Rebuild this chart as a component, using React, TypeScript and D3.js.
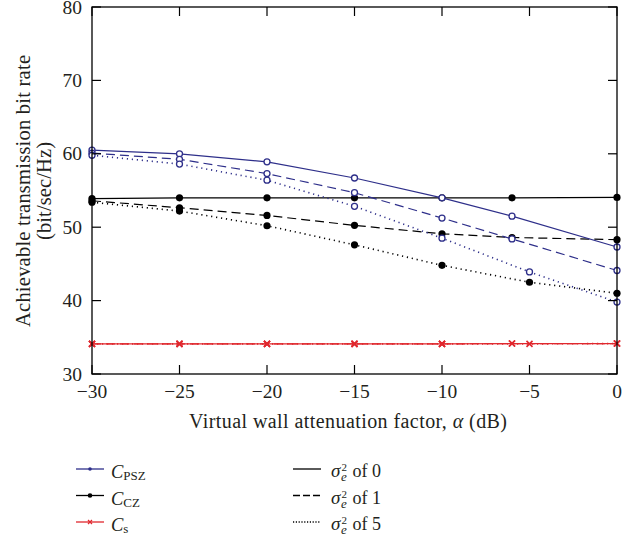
import React from "react";
import * as d3 from "d3";

const xSolidDashed = [-30, -25, -20, -15, -10, -6, 0];
const xDotted = [-30, -25, -20, -15, -10, -5, 0];

const cPsz0 = [60.5, 60.0, 58.9, 56.7, 54.0, 51.5, 47.3];
const cPsz1 = [60.1, 59.25, 57.3, 54.7, 51.25, 48.4, 44.1];
const cPsz5 = [59.8, 58.6, 56.4, 52.85, 48.5, 43.9, 39.8];

const cCz0 = [53.9, 54.0, 54.0, 54.0, 54.0, 54.0, 54.05];
const cCz1 = [53.6, 52.65, 51.6, 50.25, 49.1, 48.6, 48.3];
const cCz5 = [53.4, 52.2, 50.2, 47.6, 44.8, 42.5, 41.0];

const cS0 = [34.1, 34.1, 34.1, 34.1, 34.1, 34.15, 34.15];
const cS1 = [34.1, 34.1, 34.1, 34.1, 34.1, 34.15, 34.15];
const cS5 = [34.1, 34.1, 34.1, 34.1, 34.1, 34.1, 34.15];

const xTicks = [-30, -25, -20, -15, -10, -5, 0];
const yTicks = [30, 40, 50, 60, 70, 80];
const xTickLabels = ["\u221230", "\u221225", "\u221220", "\u221215", "\u221210", "\u22125", "0"];

const BLUE = "#2e2f8a";
const RED = "#e0282e";
const BLACK = "#000";
const TXT = "#231f20";
const FONT = "'Liberation Serif', 'DejaVu Serif', serif";

const L = 92, R = 617, T = 7, B = 374;

const DASH = "9,5";
const DOT = "1.2,3.8";

export default function App() {
  const x = d3.scaleLinear().domain([-30, 0]).range([L, R]);
  const y = d3.scaleLinear().domain([30, 80]).range([B, T]);
  const line = d3.line<[number, number]>().x(d => x(d[0])).y(d => y(d[1]));

  const series = [
    { xs: xSolidDashed, ys: cCz0, color: BLACK, dash: undefined, marker: "filled" },
    { xs: xSolidDashed, ys: cCz1, color: BLACK, dash: DASH, marker: "filled" },
    { xs: xDotted, ys: cCz5, color: BLACK, dash: DOT, marker: "filled" },
    { xs: xSolidDashed, ys: cPsz0, color: BLUE, dash: undefined, marker: "open" },
    { xs: xSolidDashed, ys: cPsz1, color: BLUE, dash: DASH, marker: "open" },
    { xs: xDotted, ys: cPsz5, color: BLUE, dash: DOT, marker: "open" },
    { xs: xSolidDashed, ys: cS0, color: RED, dash: undefined, marker: "x" },
    { xs: xSolidDashed, ys: cS1, color: RED, dash: DASH, marker: "x" },
    { xs: xDotted, ys: cS5, color: RED, dash: DOT, marker: "x" },
  ];

  const marker = (kind: string, cx: number, cy: number, color: string, key: string) => {
    if (kind === "filled") return <circle key={key} cx={cx} cy={cy} r={3.6} fill={color} />;
    if (kind === "open") return <circle key={key} cx={cx} cy={cy} r={3} fill="white" stroke={color} strokeWidth={1.3} />;
    const s = 3;
    return (
      <path key={key} d={`M${cx - s},${cy - s}L${cx + s},${cy + s}M${cx - s},${cy + s}L${cx + s},${cy - s}`} stroke={color} strokeWidth={1.6} />
    );
  };

  const tickLen = 9;

  const legLeft = [
    { main: "C", sub: "PSZ", color: BLUE, marker: "open" },
    { main: "C", sub: "CZ", color: BLACK, marker: "filled" },
    { main: "C", sub: "s", color: RED, marker: "x" },
  ];
  const legRight = [
    { val: "0", dash: undefined },
    { val: "1", dash: "7,3" },
    { val: "5", dash: "1.2,1.6" },
  ];
  const legY = [469, 495.5, 522];

  return (
    <svg width={639} height={539} style={{ position: "absolute", left: 0, top: 0, background: "white" }} fontFamily={FONT}>
      <rect x={0} y={0} width={639} height={539} fill="white" />
      {series.map((s, i) => (
        <g key={i}>
          <path
            d={line(s.xs.map((v, j) => [v, s.ys[j]] as [number, number])) || ""}
            fill="none"
            stroke={s.color}
            strokeWidth={s.dash === DOT ? 1.6 : 1.2}
            strokeDasharray={s.dash}
          />
          {s.xs.map((v, j) => marker(s.marker, x(v), y(s.ys[j]), s.color, `m${i}-${j}`))}
        </g>
      ))}
      <rect x={L} y={T} width={R - L} height={B - T} fill="none" stroke="#000" strokeWidth={1.3} />
      {xTicks.map((t, i) => (
        <g key={`xt${i}`}>
          <line x1={x(t)} x2={x(t)} y1={B} y2={B - tickLen} stroke="#000" strokeWidth={1.2} />
          <line x1={x(t)} x2={x(t)} y1={T} y2={T + tickLen} stroke="#000" strokeWidth={1.2} />
          <text x={x(t)} y={398} fontSize={19.5} textAnchor="middle" fill={TXT}>{xTickLabels[i]}</text>
        </g>
      ))}
      {yTicks.map((t, i) => (
        <g key={`yt${i}`}>
          <line x1={L} x2={L + tickLen} y1={y(t)} y2={y(t)} stroke="#000" strokeWidth={1.2} />
          <line x1={R} x2={R - tickLen} y1={y(t)} y2={y(t)} stroke="#000" strokeWidth={1.2} />
          <text x={82} y={y(t) + 6.5} fontSize={19.5} textAnchor="end" fill={TXT}>{t}</text>
        </g>
      ))}
      <text x={348} y={428} fontSize={20} textAnchor="middle" fill={TXT} textLength={318}>
        Virtual wall attenuation factor, <tspan fontStyle="italic">α</tspan> (dB)
      </text>
      <text transform={`translate(30,191) rotate(-90)`} fontSize={20.5} textAnchor="middle" fill={TXT} textLength={272}>
        Achievable transmission bit rate
      </text>
      <text transform={`translate(51,191) rotate(-90)`} fontSize={20.5} textAnchor="middle" fill={TXT} textLength={98}>
        (bit/sec/Hz)
      </text>
      {legLeft.map((l, i) => (
        <g key={`ll${i}`}>
          <line x1={76} x2={104} y1={legY[i]} y2={legY[i]} stroke={l.color} strokeWidth={1.3} />
          {l.marker === "open" ? (
            <circle cx={90} cy={legY[i]} r={1.8} fill={l.color} />
          ) : l.marker === "filled" ? (
            <circle cx={90} cy={legY[i]} r={2.3} fill={l.color} />
          ) : (
            <path d={`M88,${legY[i] - 2}L92,${legY[i] + 2}M88,${legY[i] + 2}L92,${legY[i] - 2}`} stroke={l.color} strokeWidth={1.2} />
          )}
          <text x={111} y={legY[i] + 9} fontSize={18.5} fill={TXT}>
            <tspan fontStyle="italic">{l.main}</tspan>
            <tspan fontSize={13} dy={2}>{l.sub}</tspan>
          </text>
        </g>
      ))}
      {legRight.map((l, i) => (
        <g key={`lr${i}`}>
          <line x1={293} x2={321} y1={legY[i]} y2={legY[i]} stroke="#000" strokeWidth={1.3} strokeDasharray={l.dash} />
          <text x={331} y={legY[i] + 8} fontSize={19} fontStyle="italic" fill={TXT}>σ</text>
          <text x={341.5} y={legY[i] + 2} fontSize={11} fill={TXT}>2</text>
          <text x={341} y={legY[i] + 12} fontSize={13} fontStyle="italic" fill={TXT}>e</text>
          <text x={352.5} y={legY[i] + 8} fontSize={18} fill={TXT}>of {l.val}</text>
        </g>
      ))}
    </svg>
  );
}
